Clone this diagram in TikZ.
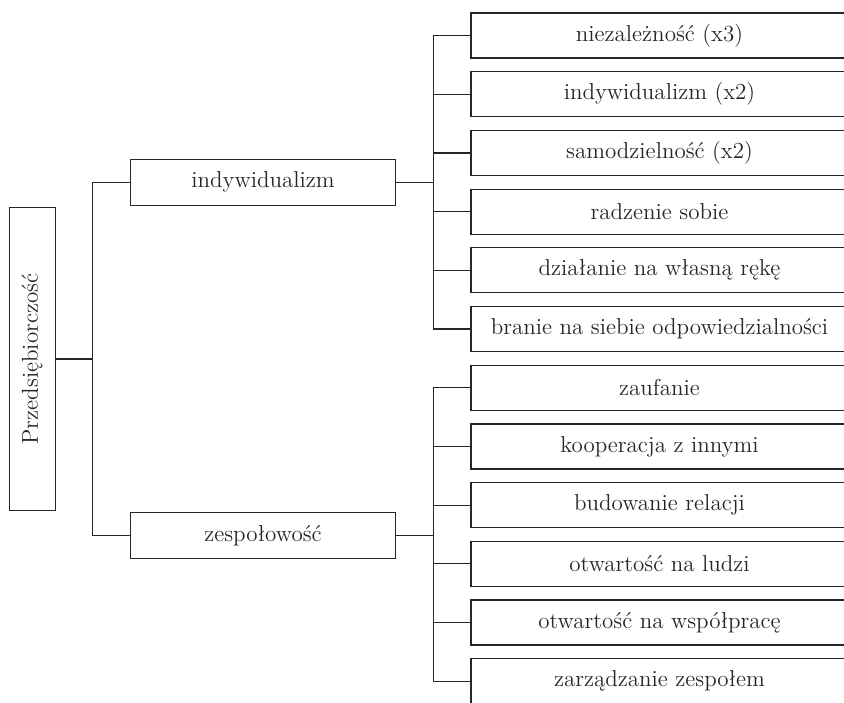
\documentclass[tikz,border=0pt]{standalone}
\usepackage{tikz}

\tikzset{
  box/.style={draw=black!85, line width=0.6pt, inner sep=0pt, align=center,
    text=black!85, font=\fontsize{11.5}{13}\selectfont},
  leaf/.style={box, minimum width=188.5pt, minimum height=22.5pt},
  branch/.style={box, minimum width=132.5pt, minimum height=23pt},
  link/.style={draw=black!85, line width=0.6pt},
}

\begin{document}
\begin{tikzpicture}[x=0.5pt,y=-0.5pt]
  \useasboundingbox (0,0) rectangle (844,702);
  \clip (0,0) rectangle (844,702);

  % korzeń
  \node[box, rotate=90, minimum width=151.5pt, minimum height=23pt] (root) at (32.2,359) {Przedsiębiorczość};

  % dwie gałęzie
  \node[branch] (indyw) at (263,182.2) {indywidualizm};
  \node[branch] (zesp) at (263,535.3) {zespołowość};

  % liście
  \foreach \i/\txt in {0/niezależność (x3), 1/indywidualizm (x2), 2/samodzielność (x2),
      3/radzenie sobie, 4/działanie na własną rękę, 5/branie na siebie odpowiedzialności,
      6/zaufanie, 7/kooperacja z innymi, 8/budowanie relacji,
      9/otwartość na ludzi, 10/otwartość na współpracę, 11/zarządzanie zespołem}
    \node[leaf] (leaf\i) at (659.5,35.5+58.7*\i) {\txt};

  % połączenia
  \coordinate (j0) at (92.7,359);
  \coordinate (j1) at (433.3,182.2);
  \coordinate (j2) at (433.3,535.3);
  \draw[link] (root.south) -- (j0);
  \draw[link] (indyw.west) -| (j0) |- (zesp.west);
  \draw[link] (indyw.east) -- (j1);
  \draw[link] (zesp.east) -- (j2);
  \foreach \i in {0,...,5}
    \draw[link] (j1) |- (leaf\i.west);
  \foreach \i in {6,...,11}
    \draw[link] (j2) |- (leaf\i.west);
\end{tikzpicture}
\end{document}
